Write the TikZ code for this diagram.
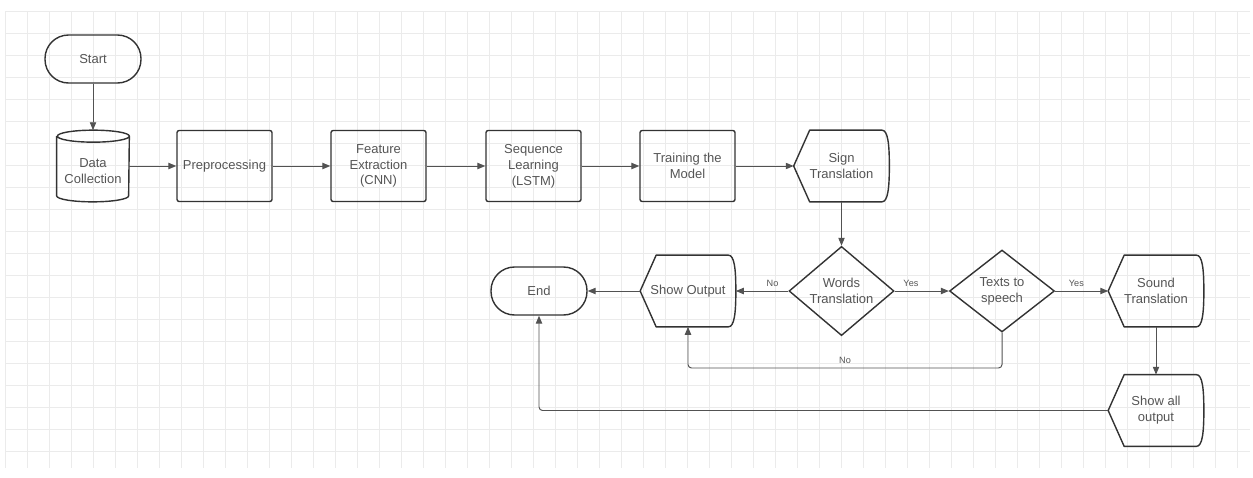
\documentclass[tikz,border=0pt]{standalone}
\usepackage{fontspec}
\setmainfont{Liberation Sans}
\usetikzlibrary{arrows.meta,shapes.geometric}
\definecolor{ln}{HTML}{333333}
\definecolor{tx}{HTML}{555555}
\definecolor{gridc}{HTML}{EBEBEB}
\newcommand\dispdraw[1]{%
  \draw[draw=ln,line width=0.8pt,line join=round]
    (#1.west) -- ([xshift=0.32cm]#1.north west) -- ([xshift=-0.15cm]#1.north east)
    .. controls ([xshift=-0.03cm]#1.north east) and ([yshift=0.45cm]#1.east) .. (#1.east)
    .. controls ([yshift=-0.45cm]#1.east) and ([xshift=-0.03cm]#1.south east) .. ([xshift=-0.15cm]#1.south east)
    -- ([xshift=0.32cm]#1.south west) -- cycle;}
\begin{document}
\begin{tikzpicture}[x=0.02cm,y=-0.02cm,
  font=\fontsize{7.4}{9}\selectfont,
  base/.style={text=tx, align=center, inner sep=1pt},
  proc/.style={base, draw=ln, line width=0.8pt, rounded corners=1.2pt, minimum width=1.9cm, minimum height=1.42cm},
  term/.style={base, draw=ln, line width=0.8pt, rounded corners=0.47cm, minimum width=1.92cm, minimum height=0.96cm},
  dec/.style={base, draw=ln, line width=0.8pt, diamond, minimum width=2.1cm, minimum height=1.64cm, inner sep=0pt},
  disp/.style={base, minimum width=1.9cm, minimum height=1.42cm},
  arr/.style={draw=ln!85, line width=0.55pt, -{Triangle[length=4.5pt,width=3.6pt]}, rounded corners=2pt},
  lab/.style={text=tx, font=\fontsize{5.2}{6}\selectfont, inner sep=1pt}]
\useasboundingbox (0,0) rectangle (1253,477);
% background grid
\foreach \x in {5,27,...,1250} \draw[gridc,line width=0.35pt] (\x,11) -- (\x,468);
\foreach \y in {11,33,...,468} \draw[gridc,line width=0.35pt] (5,\y) -- (1250,\y);

% nodes
\node[term] (start) at (93,59) {Start};
\node[minimum width=1.44cm, minimum height=1.42cm, inner sep=0pt,
      label={[base,yshift=-0.1cm]center:Data\\Collection}] (dc) at (93,166) {};
\draw[draw=ln,line width=0.8pt]
  ([yshift=-0.12cm]dc.north west) -- ([yshift=0.12cm]dc.south west)
  arc[start angle=180,end angle=360,x radius=0.72cm,y radius=0.12cm]
  -- ([yshift=-0.12cm]dc.north east)
  arc[start angle=0,end angle=180,x radius=0.72cm,y radius=0.12cm]
  arc[start angle=180,end angle=360,x radius=0.72cm,y radius=0.12cm];
\node[proc] (pre) at (224.5,166) {Preprocessing};
\node[proc] (fe) at (378.5,166) {Feature\\Extraction\\(CNN)};
\node[proc] (sl) at (533.5,166) {Sequence\\Learning\\(LSTM)};
\node[proc] (tm) at (687.5,166) {Training the\\Model};
\node[disp] (st) at (841.5,166) {Sign\\Translation};
\dispdraw{st}
\node[dec] (wt) at (841.5,291) {Words\\Translation};
\node[dec] (ts) at (1002,291) {Texts to\\speech};
\node[disp] (so) at (688,291) {Show Output};
\dispdraw{so}
\node[term] (end) at (539,291) {End};
\node[disp] (snd) at (1156,291) {Sound\\Translation};
\dispdraw{snd}
\node[disp] (sao) at (1156,410.5) {Show all\\output};
\dispdraw{sao}

% connectors
\draw[arr] (start) -- (dc);
\draw[arr] (dc.east) -- (pre);
\draw[arr] (pre) -- (fe);
\draw[arr] (fe) -- (sl);
\draw[arr] (sl) -- (tm);
\draw[arr] (tm) -- (st.west);
\draw[arr] (st) -- (wt);
\draw[arr] (wt) -- node[lab,pos=0.3,above=1pt]{No} (so.east);
\draw[arr] (so.west) -- (end);
\draw[arr] (wt) -- node[lab,pos=0.3,above=1pt]{Yes} (ts);
\draw[arr] (ts) -- node[lab,pos=0.4,above=1pt]{Yes} (snd.west);
\draw[arr] (snd) -- (sao);
\draw[arr] (ts.south) |- node[lab,pos=0.75,above=1pt]{No} (688,368) -- (so.south);
\draw[arr] (sao.west) -| (end.south);
\end{tikzpicture}
\end{document}
